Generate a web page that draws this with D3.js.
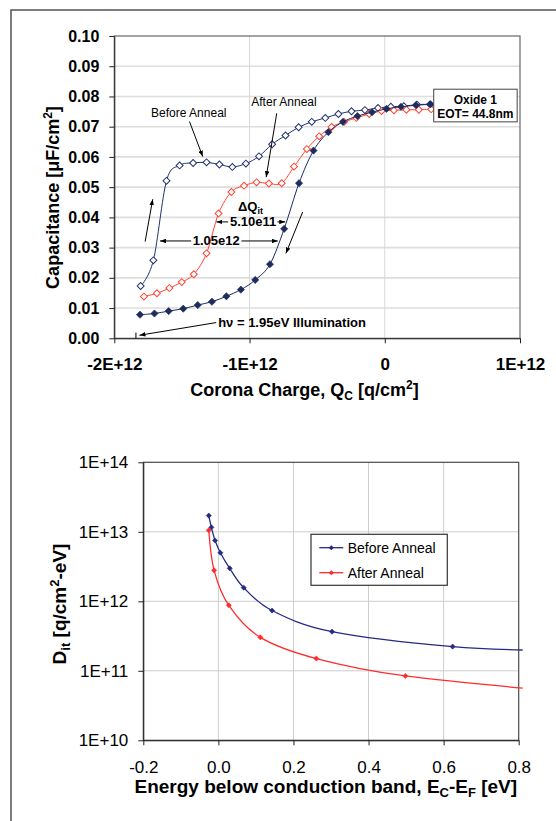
<!DOCTYPE html>
<html>
<head>
<meta charset="utf-8">
<script src="https://cdn.jsdelivr.net/npm/d3@7"></script>
<style>
  html, body { margin: 0; padding: 0; background: #fff; }
  svg { display: block; font-family: Arial, "Liberation Sans", sans-serif; }
</style>
</head>
<body>
<svg id="chart" width="556" height="821"></svg>
<script>
// top chart: corona charge in units of 1E12 q/cm2, capacitance in uF/cm2
const qBefore = [-1.805, -1.711, -1.614, -1.517, -1.417, -1.318, -1.223, -1.127, -1.027, -0.930, -0.833, -0.734,
                 -0.637, -0.540, -0.440, -0.343, -0.246, -0.147, -0.050, 0.045, 0.141, 0.238, 0.335];
const cBefore = [0.0173, 0.0258, 0.0521, 0.0572, 0.0580, 0.0582, 0.0575, 0.0567, 0.0578, 0.0602, 0.0642, 0.0671,
                 0.0698, 0.0716, 0.0729, 0.0742, 0.0751, 0.0755, 0.0762, 0.0766, 0.0768, 0.0773, 0.0774];

const qAfter = [-1.781, -1.685, -1.593, -1.501, -1.412, -1.318, -1.229, -1.134, -1.040, -0.948, -0.857, -0.762,
                -0.671, -0.576, -0.485, -0.393, -0.301, -0.210, -0.115, -0.024, 0.068, 0.160, 0.252, 0.343];
const cAfter = [0.0138, 0.0149, 0.0166, 0.0186, 0.0212, 0.0281, 0.0413, 0.0484, 0.0505, 0.0516, 0.0512, 0.0513,
                0.0568, 0.0626, 0.0668, 0.0699, 0.0716, 0.0729, 0.0742, 0.0752, 0.0754, 0.0756, 0.0756, 0.0758];

// before anneal, sweep under illumination (filled markers)
const qIllum = [-1.810, -1.703, -1.598, -1.490, -1.383, -1.278, -1.171, -1.064, -0.958, -0.849, -0.744, -0.634,
                -0.527, -0.417, -0.309, -0.202, -0.094, 0.013, 0.120, 0.231, 0.338];
const cIllum = [0.0078, 0.0082, 0.0090, 0.0098, 0.0110, 0.0121, 0.0139, 0.0161, 0.0193, 0.0245, 0.0362, 0.0513,
                0.0621, 0.0682, 0.0716, 0.0735, 0.0748, 0.0759, 0.0766, 0.0771, 0.0774];

const capTicks = [0, 0.01, 0.02, 0.03, 0.04, 0.05, 0.06, 0.07, 0.08, 0.09, 0.10];
const capTickLabels = ["0.00", "0.01", "0.02", "0.03", "0.04", "0.05", "0.06", "0.07", "0.08", "0.09", "0.10"];
const chargeTicks = [-2, -1, 0, 1];
const chargeTickLabels = ["-2E+12", "-1E+12", "0", "1E+12"];

// bottom chart: energy in eV, Dit in q/cm2-eV
const eBefore = [-0.0256, -0.0186, -0.0088, 0.0053, 0.0302, 0.0675, 0.143, 0.3027, 0.624, 0.90];
const dBefore = [1.71e13, 1.16e13, 7.5e12, 5.0e12, 2.98e12, 1.57e12, 7.35e11, 3.66e11, 2.23e11, 1.95e11];
const eAfter = [-0.0256, -0.0114, 0.0277, 0.1118, 0.261, 0.498, 0.90];
const dAfter = [1.05e13, 2.79e12, 8.76e11, 3.03e11, 1.50e11, 8.43e10, 5.1e10];

const energyTicks = [-0.2, 0, 0.2, 0.4, 0.6, 0.8];
const energyTickLabels = ["-0.2", "0.0", "0.2", "0.4", "0.6", "0.8"];
const ditTicks = [1e10, 1e11, 1e12, 1e13, 1e14];
const ditTickLabels = ["1E+10", "1E+11", "1E+12", "1E+13", "1E+14"];

const seriesNames = ["Before Anneal", "After Anneal"];

const navy = "#23326e";
const red = "#ff4432";
const navy2 = "#262a84";
const red2 = "#ff2b2b";

const svg = d3.select("#chart");

// outer frame (runs off the right / bottom edge)
svg.append("rect")
    .attr("x", 11).attr("y", 10).attr("width", 620).attr("height", 900)
    .attr("fill", "none").attr("stroke", "#5c5c5c").attr("stroke-width", 1.6);

svg.append("defs").append("marker")
    .attr("id", "arrow")
    .attr("viewBox", "0 0 12 9")
    .attr("refX", 12).attr("refY", 4.5)
    .attr("markerWidth", 6).attr("markerHeight", 4.5)
    .attr("markerUnits", "userSpaceOnUse")
    .attr("orient", "auto")
    .append("path").attr("d", "M0,0L12,4.5L0,9z").attr("fill", "#000");

function styleAxis(g, size, weight) {
    g.attr("font-family", null).attr("font-size", null);
    g.select(".domain").attr("stroke", "#222");
    g.selectAll(".tick line").attr("stroke", "#222");
    g.selectAll("text")
        .attr("fill", "#000")
        .attr("font-size", size)
        .attr("font-weight", weight);
}

function drawSeries(g, x, y, xs, ys, o) {
    const pts = xs.map((v, i) => [v, ys[i]]);
    const line = d3.line().x(d => x(d[0])).y(d => y(d[1])).curve(d3.curveCardinal.tension(0));
    g.append("path")
        .datum(pts)
        .attr("d", line)
        .attr("fill", "none")
        .attr("stroke", o.color)
        .attr("stroke-width", o.width)
        .attr("clip-path", o.clip || null);
    g.append("g")
        .attr("clip-path", o.markerClip || null)
        .selectAll("path")
        .data(pts)
        .join("path")
        .attr("d", d3.symbol(d3.symbolSquare, o.size))
        .attr("transform", d => `translate(${x(d[0])},${y(d[1])}) rotate(45)`)
        .attr("fill", o.open ? "#fff" : o.color)
        .attr("stroke", o.color)
        .attr("stroke-width", o.open ? 1 : 0.6);
}

// ================= top chart =================
const xTop = d3.scaleLinear().domain([-2, 1]).range([114.3, 520]);
const yTop = d3.scaleLinear().domain([0, 0.1]).range([338.3, 36]);
const gTop = svg.append("g");

gTop.append("g").selectAll("line")
    .data(capTicks.slice(1, -1))
    .join("line")
    .attr("x1", xTop(-2)).attr("x2", xTop(1))
    .attr("y1", d => yTop(d)).attr("y2", d => yTop(d))
    .attr("stroke", "#dedede").attr("stroke-width", 1.6);

gTop.append("g").selectAll("line")
    .data(chargeTicks.slice(1, -1))
    .join("line")
    .attr("x1", d => xTop(d)).attr("x2", d => xTop(d))
    .attr("y1", yTop(0)).attr("y2", yTop(0.1))
    .attr("stroke", "#d8d8d8").attr("stroke-width", 1);

gTop.append("rect")
    .attr("x", xTop(-2)).attr("y", yTop(0.1))
    .attr("width", xTop(1) - xTop(-2)).attr("height", yTop(0) - yTop(0.1))
    .attr("fill", "none").attr("stroke", "#666").attr("stroke-width", 1.2);

gTop.append("g")
    .attr("transform", `translate(${xTop(-2)},0)`)
    .call(d3.axisLeft(yTop).tickValues(capTicks).tickFormat((d, i) => capTickLabels[i])
        .tickSize(5).tickSizeOuter(0).tickPadding(10))
    .call(g => styleAxis(g, 16, "bold"));

gTop.append("g")
    .attr("transform", `translate(0,${yTop(0)})`)
    .call(d3.axisBottom(xTop).tickValues(chargeTicks).tickFormat((d, i) => chargeTickLabels[i])
        .tickSize(5).tickSizeOuter(0).tickPadding(15))
    .call(g => styleAxis(g, 17, "bold"));

drawSeries(gTop, xTop, yTop, qBefore, cBefore, {color: navy, width: 1, size: 24, open: true});
drawSeries(gTop, xTop, yTop, qAfter, cAfter, {color: red, width: 1, size: 24, open: true});
drawSeries(gTop, xTop, yTop, qIllum, cIllum, {color: "#1d2b5e", width: 1, size: 26, open: false});

// annotation arrows, in data units
const topArrows = [
    [-1.444, 0.0717, -1.346, 0.0601],
    [-0.799, 0.0744, -0.877, 0.0533],
    [-1.772, 0.0320, -1.716, 0.0460],
    [-0.607, 0.0418, -0.731, 0.0281],
    [-1.158, 0.0385, -1.245, 0.0385],
    [-0.794, 0.0385, -0.736, 0.0385],
    [-1.432, 0.0322, -1.662, 0.0322],
    [-1.060, 0.0322, -0.791, 0.0322],
    [-1.247, 0.0052, -1.814, 0.0010]
];
gTop.append("g").selectAll("line")
    .data(topArrows)
    .join("line")
    .attr("x1", d => xTop(d[0])).attr("y1", d => yTop(d[1]))
    .attr("x2", d => xTop(d[2])).attr("y2", d => yTop(d[3]))
    .attr("stroke", "#000").attr("stroke-width", 1)
    .attr("marker-end", "url(#arrow)");

gTop.append("line")
    .attr("x1", xTop(-1.840)).attr("x2", xTop(-1.840))
    .attr("y1", yTop(0.0019)).attr("y2", yTop(0))
    .attr("stroke", "#000").attr("stroke-width", 1);

gTop.append("text")
    .attr("x", xTop(-1.728)).attr("y", yTop(0.0732))
    .attr("font-size", 12).text(seriesNames[0]);
gTop.append("text")
    .attr("x", xTop(-0.987)).attr("y", yTop(0.0769))
    .attr("font-size", 12).text(seriesNames[1]);

const dq = gTop.append("text")
    .attr("x", xTop(-0.993)).attr("y", yTop(0.0421))
    .attr("text-anchor", "middle").attr("font-size", 13).attr("font-weight", "bold");
dq.append("tspan").text("\u0394Q");
dq.append("tspan").attr("font-size", 9).attr("dy", 3).text("it");

gTop.append("text")
    .attr("x", xTop(-1.145)).attr("y", yTop(0.0370))
    .attr("font-size", 13).attr("font-weight", "bold").text("5.10e11");
gTop.append("text")
    .attr("x", xTop(-1.420)).attr("y", yTop(0.0307))
    .attr("font-size", 13).attr("font-weight", "bold").text("1.05e12");
gTop.append("text")
    .attr("x", xTop(-1.232)).attr("y", yTop(0.0037))
    .attr("font-size", 13).attr("font-weight", "bold").text("h\u03bd = 1.95eV Illumination");

gTop.append("rect")
    .attr("x", xTop(0.362)).attr("y", yTop(0.0824))
    .attr("width", xTop(0.979) - xTop(0.362)).attr("height", yTop(0.0716) - yTop(0.0824))
    .attr("fill", "#fff").attr("stroke", "#444").attr("stroke-width", 1);
gTop.append("text")
    .attr("x", xTop(0.67)).attr("y", yTop(0.0776))
    .attr("text-anchor", "middle").attr("font-size", 12).attr("font-weight", "bold").text("Oxide 1");
gTop.append("text")
    .attr("x", xTop(0.67)).attr("y", yTop(0.0728))
    .attr("text-anchor", "middle").attr("font-size", 12).attr("font-weight", "bold").text("EOT= 44.8nm");

// titles
const tx = gTop.append("text")
    .attr("x", 304.5).attr("y", 396)
    .attr("text-anchor", "middle").attr("font-size", 18).attr("font-weight", "bold");
tx.append("tspan").text("Corona Charge, Q");
tx.append("tspan").attr("font-size", 12).attr("dy", 4).text("C");
tx.append("tspan").attr("dy", -4).text(" [q/cm");
tx.append("tspan").attr("font-size", 12).attr("dy", -7).text("2");
tx.append("tspan").attr("dy", 7).text("]");

const ty = gTop.append("text")
    .attr("transform", "translate(59,197.5) rotate(-90)")
    .attr("text-anchor", "middle").attr("font-size", 18).attr("font-weight", "bold");
ty.append("tspan").text("Capacitance [\u03bcF/cm");
ty.append("tspan").attr("font-size", 12).attr("dy", -7).text("2");
ty.append("tspan").attr("dy", 7).text("]");

// ================= bottom chart =================
const xBot = d3.scaleLinear().domain([-0.2, 0.8]).range([143.3, 518.7]);
const yBot = d3.scaleLog().domain([1e10, 1e14]).range([740.3, 462.3]);
const gBot = svg.append("g");

svg.select("defs").append("clipPath").attr("id", "botLineClip")
    .append("rect")
    .attr("x", xBot(-0.2)).attr("y", yBot(1e14))
    .attr("width", xBot(0.8) - xBot(-0.2) + 4).attr("height", yBot(1e10) - yBot(1e14));
svg.select("defs").append("clipPath").attr("id", "botMarkClip")
    .append("rect")
    .attr("x", xBot(-0.2)).attr("y", yBot(1e14))
    .attr("width", xBot(0.8) - xBot(-0.2)).attr("height", yBot(1e10) - yBot(1e14));

gBot.append("g").selectAll("line")
    .data(ditTicks.slice(1, -1))
    .join("line")
    .attr("x1", xBot(-0.2)).attr("x2", xBot(0.8))
    .attr("y1", d => yBot(d)).attr("y2", d => yBot(d))
    .attr("stroke", "#cdcdcd").attr("stroke-width", 1);
gBot.append("g").selectAll("line")
    .data(energyTicks.slice(1, -1))
    .join("line")
    .attr("x1", d => xBot(d)).attr("x2", d => xBot(d))
    .attr("y1", yBot(1e10)).attr("y2", yBot(1e14))
    .attr("stroke", "#cdcdcd").attr("stroke-width", 1);

gBot.append("rect")
    .attr("x", xBot(-0.2)).attr("y", yBot(1e14))
    .attr("width", xBot(0.8) - xBot(-0.2)).attr("height", yBot(1e10) - yBot(1e14))
    .attr("fill", "none").attr("stroke", "#4a4a4a").attr("stroke-width", 1.2);

gBot.append("g")
    .attr("transform", `translate(${xBot(-0.2)},0)`)
    .call(d3.axisLeft(yBot).tickValues(ditTicks).tickFormat((d, i) => ditTickLabels[i])
        .tickSize(5).tickSizeOuter(0).tickPadding(10))
    .call(g => styleAxis(g, 17, "normal"));

gBot.append("g")
    .attr("transform", `translate(0,${yBot(1e10)})`)
    .call(d3.axisBottom(xBot).tickValues(energyTicks).tickFormat((d, i) => energyTickLabels[i])
        .tickSize(5).tickSizeOuter(0).tickPadding(15.5))
    .call(g => styleAxis(g, 17, "normal"));

drawSeries(gBot, xBot, yBot, eBefore, dBefore,
    {color: navy2, width: 1.3, size: 13, open: false, clip: "url(#botLineClip)", markerClip: "url(#botMarkClip)"});
drawSeries(gBot, xBot, yBot, eAfter, dAfter,
    {color: red2, width: 1.3, size: 13, open: false, clip: "url(#botLineClip)", markerClip: "url(#botMarkClip)"});

// legend
const legend = gBot.append("g").attr("transform", "translate(311,534.3)");
legend.append("rect")
    .attr("width", 136.3).attr("height", 51)
    .attr("fill", "#fff").attr("stroke", "#333").attr("stroke-width", 1.2);
const legendColors = [navy2, red2];
const rows = legend.selectAll("g.row")
    .data(seriesNames)
    .join("g")
    .attr("class", "row")
    .attr("transform", (d, i) => `translate(0,${13.4 + i * 25})`);
rows.append("line")
    .attr("x1", 8.3).attr("x2", 32.3)
    .attr("stroke", (d, i) => legendColors[i]).attr("stroke-width", 1.3);
rows.append("path")
    .attr("d", d3.symbol(d3.symbolSquare, 13))
    .attr("transform", "translate(20.3,0) rotate(45)")
    .attr("fill", (d, i) => legendColors[i]);
rows.append("text")
    .attr("x", 36.7).attr("y", 5.2)
    .attr("font-size", 14).text(d => d);

// titles
const bx = gBot.append("text")
    .attr("x", 325.8).attr("y", 793)
    .attr("text-anchor", "middle").attr("font-size", 19).attr("font-weight", "bold");
bx.append("tspan").text("Energy below conduction band, E");
bx.append("tspan").attr("font-size", 13).attr("dy", 4).text("C");
bx.append("tspan").attr("dy", -4).text("-E");
bx.append("tspan").attr("font-size", 13).attr("dy", 4).text("F");
bx.append("tspan").attr("dy", -4).text(" [eV]");

const by = gBot.append("text")
    .attr("transform", "translate(65.5,604) rotate(-90)")
    .attr("text-anchor", "middle").attr("font-size", 19).attr("font-weight", "bold");
by.append("tspan").text("D");
by.append("tspan").attr("font-size", 13).attr("dy", 4).text("it");
by.append("tspan").attr("dy", -4).text(" [q/cm");
by.append("tspan").attr("font-size", 13).attr("dy", -7).text("2");
by.append("tspan").attr("dy", 7).text("-eV]");
</script>
</body>
</html>
